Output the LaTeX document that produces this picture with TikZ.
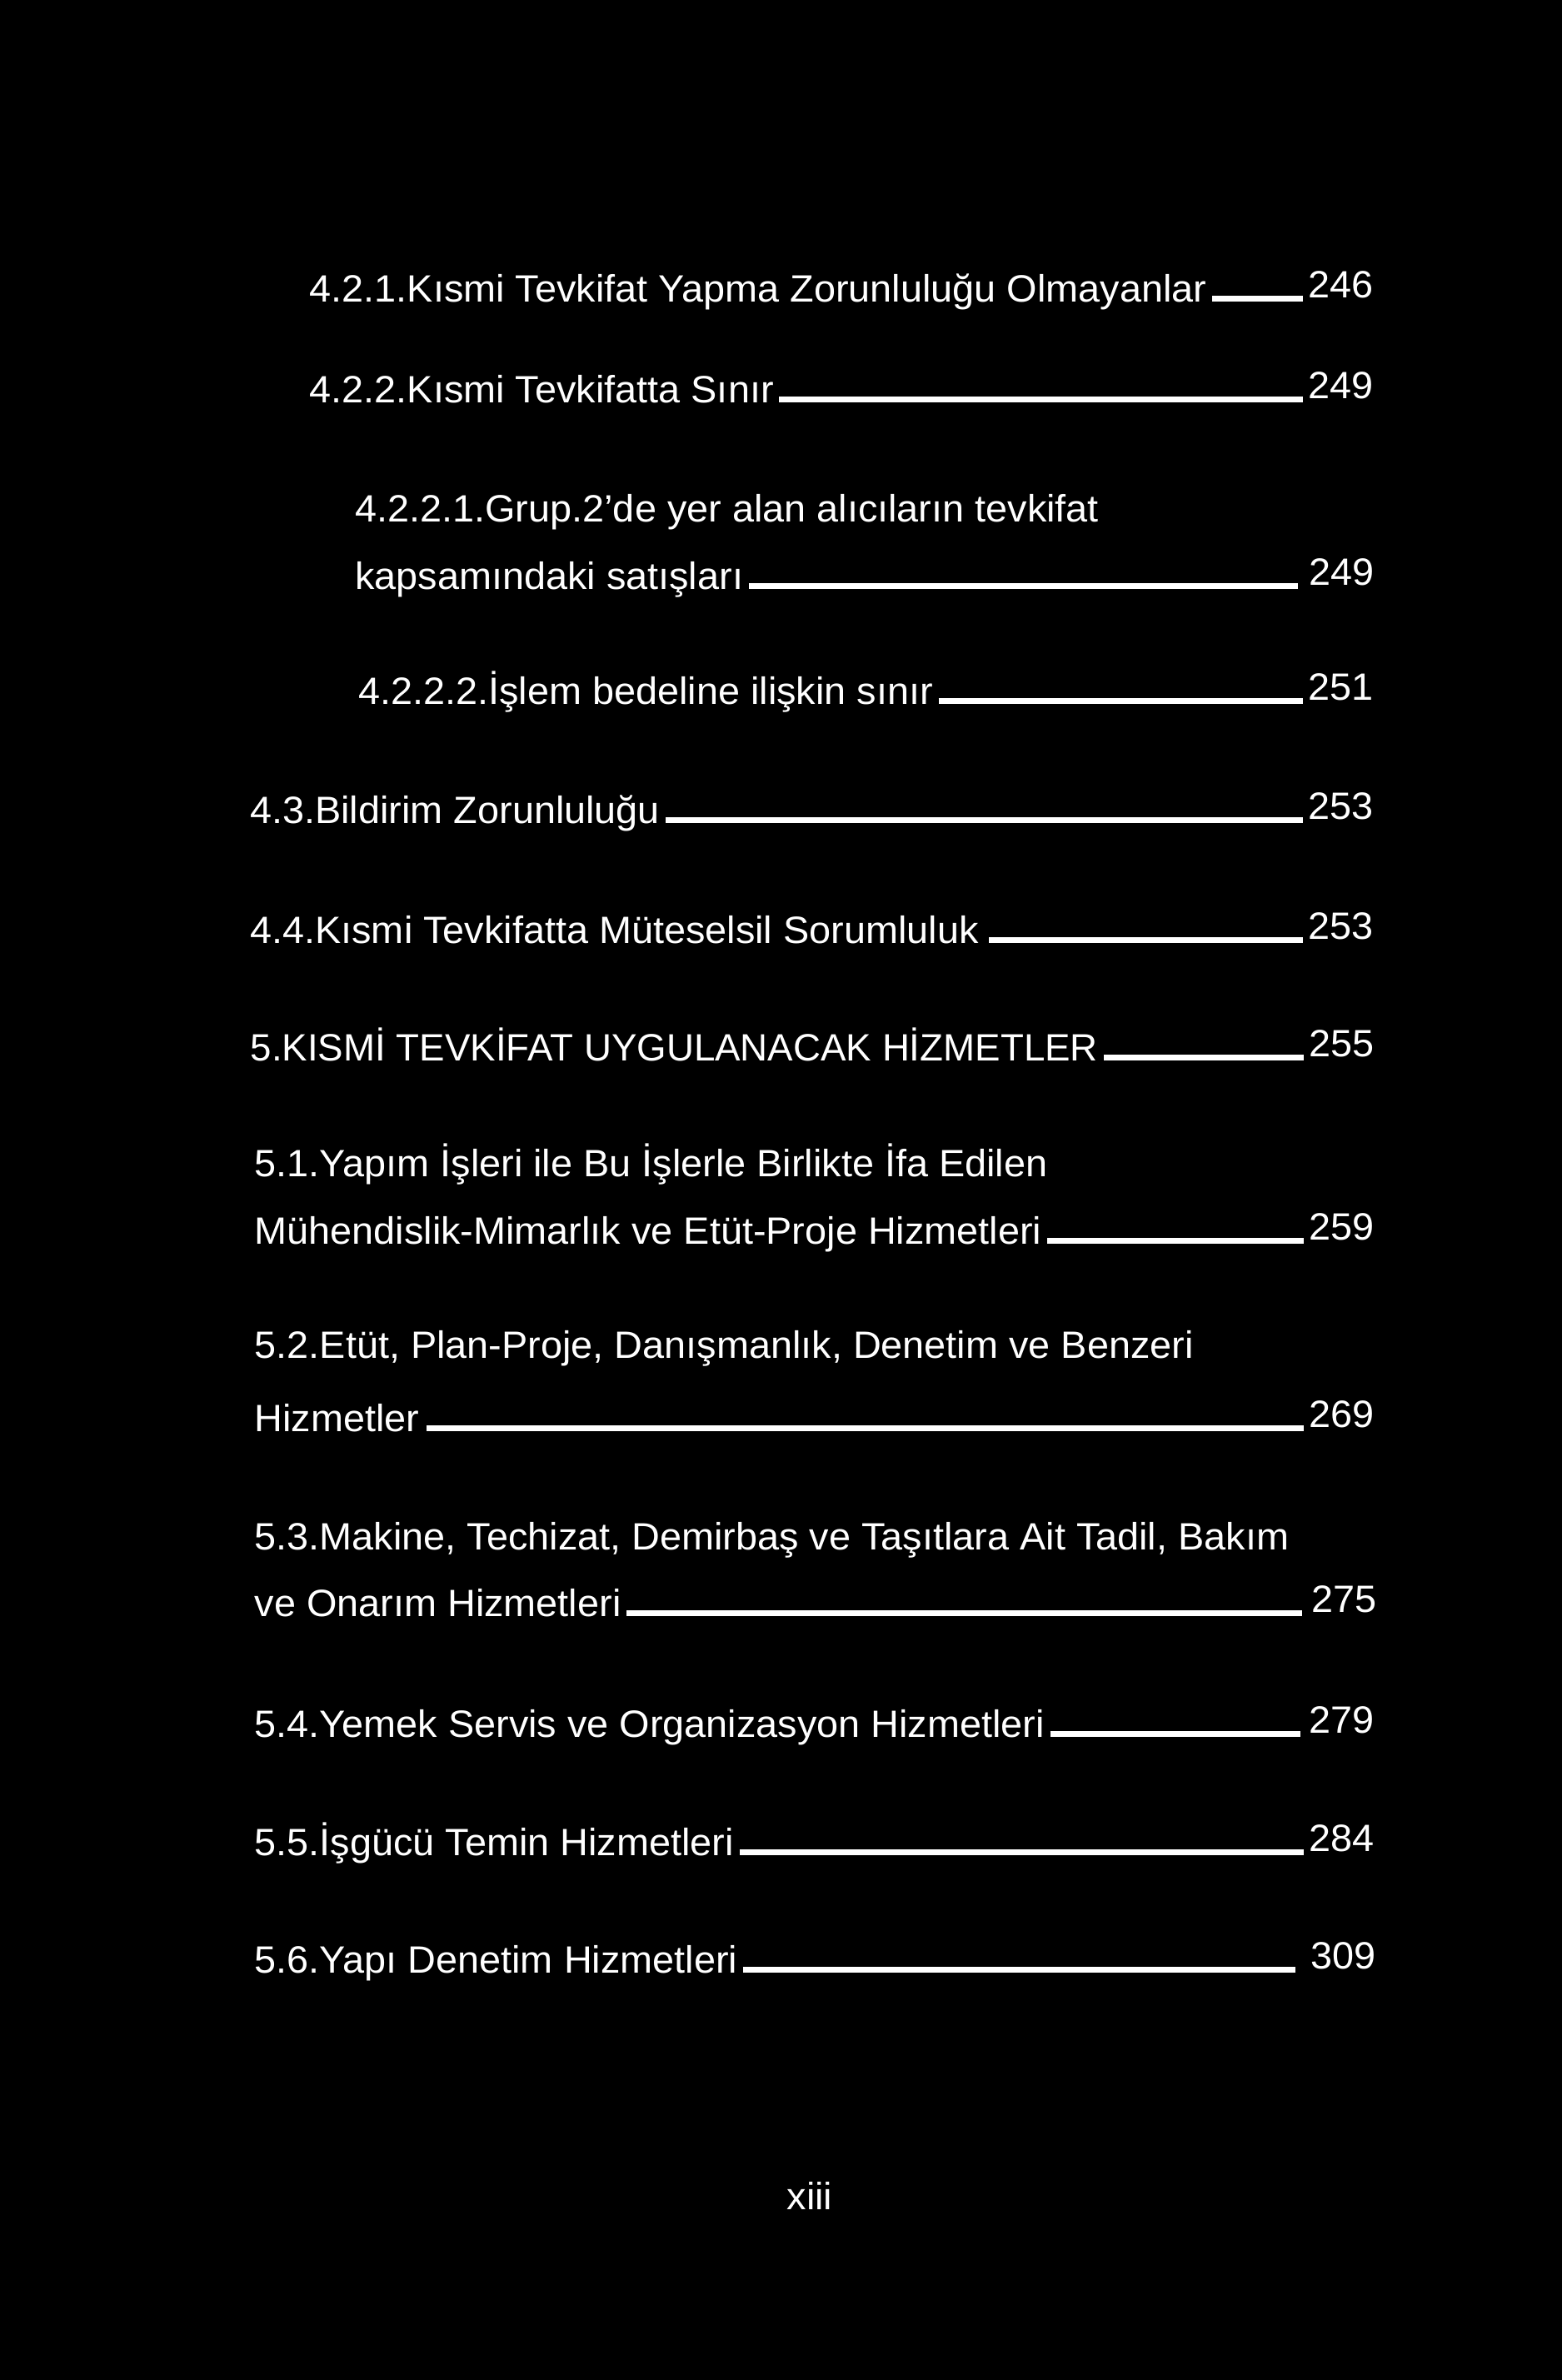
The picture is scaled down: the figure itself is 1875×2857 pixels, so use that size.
\documentclass[tikz,border=0pt]{standalone}
\usepackage{fontspec}
\setmainfont[FakeStretch=1.025]{Liberation Sans}
\newfontfamily\capsfont{Liberation Sans}
\usetikzlibrary{calc}

\begin{document}
\begin{tikzpicture} [x = 0.1mm, y = -0.1mm,
  entry/.style = {anchor = base west, inner sep = 0pt, text = white, font = \fontsize{13pt}{15pt}\selectfont},
  pagenum/.style = {entry},
  leader/.style = {white, line width = 0.7mm}]
\useasboundingbox (0, 0) rectangle (1875, 2857);
\fill[black] (0, 0) rectangle (1875, 2857);
% section 4.2
\node[entry] (t1) at (371, 362){4.2.1.Kısmi Tevkifat Yapma Zorunluluğu Olmayanlar};
\node[pagenum] (p1) at (1570, 357){246};
\node[entry] (t2) at (371, 483){4.2.2.Kısmi Tevkifatta Sınır};
\node[pagenum] (p2) at (1570, 478){249};
\node[entry] (t3) at (425.5, 626){4.2.2.1.Grup.2’de yer alan alıcıların tevkifat};
\node[entry] (t4) at (425.5, 707){kapsamındaki satışları};
\node[pagenum] (p4) at (1571, 702){249};
\node[entry] (t5) at (429.5, 845){4.2.2.2.İşlem bedeline ilişkin sınır};
\node[pagenum] (p5) at (1570, 840){251};
% sections 4.3 and 4.4
\node[entry] (t6) at (299.5, 988){4.3.Bildirim Zorunluluğu};
\node[pagenum] (p6) at (1570, 983){253};
\node[entry] (t7) at (299.5, 1132){4.4.Kısmi Tevkifatta Müteselsil Sorumluluk};
\node[pagenum] (p7) at (1570, 1127){253};
% section 5
\node[entry, font = \fontsize{13pt}{15pt}\capsfont] (t8) at (300, 1273){5.KISMİ TEVKİFAT UYGULANACAK HİZMETLER};
\node[pagenum] (p8) at (1571, 1268){255};
\node[entry] (t9) at (305, 1412){5.1.Yapım İşleri ile Bu İşlerle Birlikte İfa Edilen};
\node[entry] (t10) at (305, 1493){Mühendislik-Mimarlık ve Etüt-Proje Hizmetleri};
\node[pagenum] (p10) at (1571, 1488){259};
\node[entry] (t11) at (305, 1630){5.2.Etüt, Plan-Proje, Danışmanlık, Denetim ve Benzeri};
\node[entry] (t12) at (305, 1718){Hizmetler};
\node[pagenum] (p12) at (1571, 1713){269};
\node[entry] (t13) at (305, 1860){5.3.Makine, Techizat, Demirbaş ve Taşıtlara Ait Tadil, Bakım};
\node[entry] (t14) at (305, 1940){ve Onarım Hizmetleri};
\node[pagenum] (p14) at (1574, 1935){275};
\node[entry] (t15) at (305, 2085){5.4.Yemek Servis ve Organizasyon Hizmetleri};
\node[pagenum] (p15) at (1571, 2080){279};
\node[entry] (t16) at (305, 2227){5.5.İşgücü Temin Hizmetleri};
\node[pagenum] (p16) at (1571, 2222){284};
\node[entry] (t17) at (305, 2368){5.6.Yapı Denetim Hizmetleri};
\node[pagenum] (p17) at (1573, 2363){309};
% leaders
\draw[leader] ($(t1.base east)+(6,-4)$) -- ($(t1.base east -| p1.west)+(-6,-4)$);
\draw[leader] ($(t2.base east)+(6,-4)$) -- ($(t2.base east -| p2.west)+(-6,-4)$);
\draw[leader] ($(t4.base east)+(6,-4)$) -- ($(t4.base east -| p4.west)+(-13,-4)$);
\draw[leader] ($(t5.base east)+(6,-4)$) -- ($(t5.base east -| p5.west)+(-6,-4)$);
\draw[leader] ($(t6.base east)+(6,-4)$) -- ($(t6.base east -| p6.west)+(-6,-4)$);
\draw[leader] ($(t7.base east)+(12,-4)$) -- ($(t7.base east -| p7.west)+(-6,-4)$);
\draw[leader] ($(t8.base east)+(6,-4)$) -- ($(t8.base east -| p8.west)+(-6,-4)$);
\draw[leader] ($(t10.base east)+(6,-4)$) -- ($(t10.base east -| p10.west)+(-6,-4)$);
\draw[leader] ($(t12.base east)+(8,-4)$) -- ($(t12.base east -| p12.west)+(-6,-4)$);
\draw[leader] ($(t14.base east)+(6,-4)$) -- ($(t14.base east -| p14.west)+(-11,-4)$);
\draw[leader] ($(t15.base east)+(6,-4)$) -- ($(t15.base east -| p15.west)+(-10,-4)$);
\draw[leader] ($(t16.base east)+(6,-4)$) -- ($(t16.base east -| p16.west)+(-6,-4)$);
\draw[leader] ($(t17.base east)+(6,-4)$) -- ($(t17.base east -| p17.west)+(-18,-4)$);
% page number
\node[entry, anchor = base] (folio) at (972, 2652){xiii};
\end{tikzpicture}
\end{document}
